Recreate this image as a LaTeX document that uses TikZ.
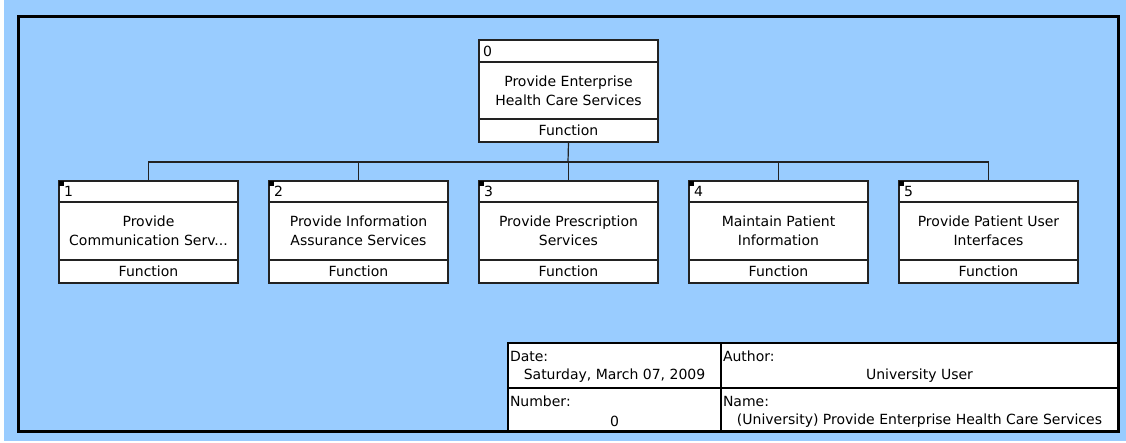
\documentclass[tikz,border=0pt]{standalone}
\usepackage{fontspec}
\setmainfont{DejaVu Sans}
\definecolor{sheet}{HTML}{99CCFF}
\definecolor{boxline}{HTML}{222222}
% one function box: #1 name, #2 left x, #3 top y, #4 number, #5 title, #6 header height
\newcommand\funcbox[6]{%
  \node[fnbox] (#1) at (#2,#3) {};
  \draw[boxline, line width=1.2pt] ([yshift=-#6pt]#1.north west) -- ([yshift=-#6pt]#1.north east);
  \draw[boxline, line width=1.2pt] ([yshift=23pt]#1.south west) -- ([yshift=23pt]#1.south east);
  \node[bodytext] (#1-title) at ([yshift=-#6pt/2+23pt/2]#1.center) {#5};
  \node[plain] (#1-kind) at ([yshift=11.5pt]#1.south) {Function};
}
\begin{document}
\begin{tikzpicture}[x=1pt,y=-1pt,
  every node/.style={inner sep=0pt, outer sep=0pt},
  plain/.style={font=\fontsize{14}{19}\selectfont},
  bodytext/.style={plain, align=center},
  fnbox/.style={draw=boxline, fill=white, line width=1.2pt, minimum width=179pt,
    minimum height=102pt, anchor=north west},
  cornermark/.style={fill=black, minimum size=5pt, anchor=north west},
  cell/.style={draw=black, fill=white, line width=2pt, anchor=north west},
  conn/.style={draw=boxline, line width=1.2pt}]
  % sheet
  \fill[white] (0,0) rectangle (1126,442);
  \fill[sheet] (4,0) rectangle (1126,441);

  % top function
  \funcbox{f0}{479}{40}{0}{Provide Enterprise\\Health Care Services}{22}
  \node[plain, anchor=west] (f0-num) at (483,51) {0};

  % child functions
  \funcbox{f1}{59}{181}{1}{Provide\\Communication Serv...}{21}
  \funcbox{f2}{269}{181}{2}{Provide Information\\Assurance Services}{21}
  \funcbox{f3}{479}{181}{3}{Provide Prescription\\Services}{21}
  \funcbox{f4}{689}{181}{4}{Maintain Patient\\Information}{21}
  \funcbox{f5}{899}{181}{5}{Provide Patient User\\Interfaces}{21}
  \foreach \n in {1,...,5} {
    \node[cornermark] (m\n) at (f\n.north west) {};
    \node[plain, anchor=west] (f\n-num) at ([xshift=5pt,yshift=-10.5pt]f\n.north west) {\n};
  }

  % decomposition tree
  \coordinate (bus) at (568,162);
  \draw[conn] (f0.south) -- (bus);
  \draw[conn] (f1.north) |- (bus) -| (f5.north);
  \foreach \n in {2,3,4} \draw[conn] (f\n.north) -- (f\n.north |- bus);

  % title block
  \node[cell, minimum width=213pt, minimum height=45pt] (date) at (508,343) {};
  \node[cell, minimum width=397pt, minimum height=45pt] (author) at (721,343) {};
  \node[cell, minimum width=213pt, minimum height=43pt] (number) at (508,388) {};
  \node[cell, minimum width=397pt, minimum height=43pt] (name) at (721,388) {};
  \node[plain, anchor=west] (date-l) at ([xshift=2pt,yshift=-13pt]date.north west) {Date:};
  \node[plain] (date-v) at ([yshift=-33pt]date.north) {Saturday, March 07, 2009};
  \node[plain, anchor=west] (author-l) at ([xshift=2pt,yshift=-13pt]author.north west) {Author:};
  \node[plain] (author-v) at ([yshift=-33pt]author.north) {University User};
  \node[plain, anchor=west] (number-l) at ([xshift=2pt,yshift=-13pt]number.north west) {Number:};
  \node[plain] (number-v) at ([yshift=-33pt]number.north) {0};
  \node[plain, anchor=west] (name-l) at ([xshift=2pt,yshift=-13pt]name.north west) {Name:};
  \node[plain] (name-v) at ([yshift=-33pt]name.north) {(University) Provide Enterprise Health Care Services};

  % sheet frame
  \draw[line width=3pt] (18,16) rectangle (1118,431);
\end{tikzpicture}
\end{document}
